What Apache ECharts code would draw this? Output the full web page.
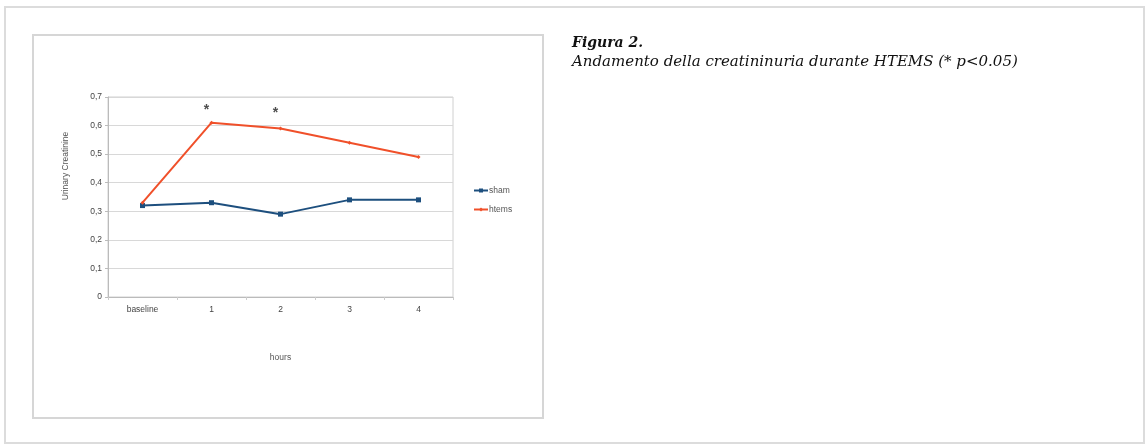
<!DOCTYPE html>
<html>
<head>
<meta charset="utf-8">
<script src="https://cdn.jsdelivr.net/npm/echarts@6/dist/echarts.min.js"></script>
<style>
html,body{margin:0;padding:0;background:#fff;}
#chart{width:1145px;height:445px;}
</style>
</head>
<body>
<div id="chart"></div>
<script>
var categories = ['baseline', '1', '2', '3', '4'];
var shamValues = [0.32, 0.33, 0.29, 0.34, 0.34];
var htemsValues = [0.33, 0.61, 0.59, 0.54, 0.49];
var starValues = [null, 0.665, 0.655, null, null];
var yTicks = [0, 0.1, 0.2, 0.3, 0.4, 0.5, 0.6, 0.7];

var chart = echarts.init(document.getElementById('chart'), null, {renderer: 'canvas'});
var option = {
  backgroundColor: '#fff',
  animation: false,
  graphic: [
    {type: 'rect', shape: {x: 5, y: 7, width: 1139, height: 436}, style: {fill: 'none', stroke: '#dcdcdc', lineWidth: 2}, silent: true},
    {type: 'rect', shape: {x: 33, y: 35, width: 510, height: 383}, style: {fill: 'none', stroke: '#d6d6d6', lineWidth: 2}, silent: true},
    {type: 'text', left: 572, top: 36, style: {text: 'Figura 2.', fontFamily: 'DejaVu Serif', fontStyle: 'italic', fontWeight: 'bold', fontSize: 14, fill: '#111'}},
    {type: 'text', left: 572, top: 55, style: {text: 'Andamento della creatininuria durante HTEMS (* p<0.05)', fontFamily: 'DejaVu Serif', fontStyle: 'italic', fontSize: 15, fill: '#111'}}
  ],
  grid: {left: 108, right: 692, top: 97, bottom: 148, show: true, borderColor: '#d0d0d0', borderWidth: 1, containLabel: false},
  legend: {
    data: ['sham', 'htems'],
    orient: 'vertical',
    left: 468, top: 181,
    itemWidth: 14, itemHeight: 5, itemGap: 10,
    textStyle: {fontSize: 8.5, color: '#555', fontFamily: 'Liberation Sans', padding: [0, 0, 0, -4]}
  },
  xAxis: {
    type: 'category',
    data: categories,
    boundaryGap: true,
    name: 'hours', nameLocation: 'middle', nameGap: 56,
    nameTextStyle: {fontSize: 8.5, color: '#555', fontFamily: 'Liberation Sans'},
    axisLine: {lineStyle: {color: '#bbb'}},
    axisTick: {show: true, length: 3, lineStyle: {color: '#ccc'}},
    axisLabel: {fontSize: 8.5, color: '#444', margin: 8, fontFamily: 'Liberation Sans'}
  },
  yAxis: {
    type: 'value',
    min: 0, max: 0.7, interval: 0.1,
    name: 'Urinary Creatinine', nameLocation: 'middle', nameGap: 38, nameRotate: 90,
    nameTextStyle: {fontSize: 8.5, color: '#555', fontFamily: 'Liberation Sans', padding: [0, 0, 0, 62]},
    axisLine: {show: true, lineStyle: {color: '#bbb'}},
    axisTick: {show: true, length: 3, lineStyle: {color: '#bbb'}},
    splitLine: {lineStyle: {color: '#d8d8d8'}},
    axisLabel: {fontSize: 8.5, color: '#444', margin: 6, fontFamily: 'Liberation Sans',
      formatter: function (v) { return String(Math.round(v * 10) / 10).replace('.', ','); }}
  },
  series: [
    {name: 'sham', type: 'line', data: shamValues, symbol: 'rect', symbolSize: 5,
      lineStyle: {color: '#1d4f7e', width: 2}, itemStyle: {color: '#1d4f7e'}, z: 3},
    {name: 'htems', type: 'line', data: htemsValues, symbol: 'diamond', symbolSize: 4,
      lineStyle: {color: '#f0502a', width: 2}, itemStyle: {color: '#f0502a'}, z: 4},
    {name: 'stars', type: 'scatter', data: starValues, symbol: 'circle', symbolSize: 2,
      itemStyle: {color: 'rgba(0,0,0,0)'}, z: 5,
      label: {show: true, position: 'inside', formatter: '*', fontSize: 14, fontWeight: 'bold', color: '#222', offset: [-5, 3], fontFamily: 'Liberation Sans'}}
  ]
};
chart.setOption(option);
</script>
</body>
</html>
